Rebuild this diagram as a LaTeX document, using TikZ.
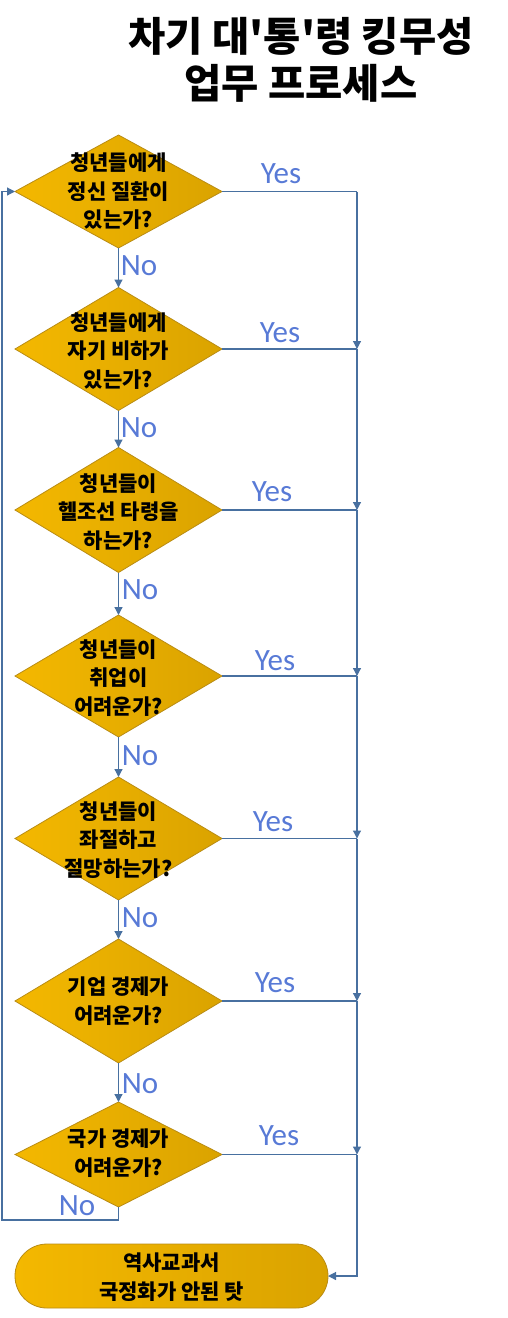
\documentclass[tikz,border=0pt]{standalone}
\usepackage{fontspec}
\usetikzlibrary{shapes.geometric,arrows.meta}
\newfontfamily\kr{Noto Sans CJK KR}
\newfontfamily\lab{Carlito}
\definecolor{goldL}{RGB}{244,184,0}
\definecolor{goldR}{RGB}{218,163,0}
\definecolor{goldB}{RGB}{185,140,20}
\definecolor{conn}{RGB}{72,112,160}
\definecolor{labc}{RGB}{88,122,214}
\tikzset{
  dia/.style={diamond, draw=goldB, line width=0.8pt, left color=goldL, right color=goldR,
    minimum width=207pt, inner sep=0pt, outer sep=0pt},
  dtext/.style={align=center, font=\kr\bfseries\fontsize{21}{28.5}\selectfont, inner sep=0pt},
  term/.style={rectangle, rounded corners=32pt, draw=goldB, line width=0.8pt, left color=goldL, right color=goldR,
    minimum width=313pt, minimum height=64pt, inner sep=0pt, outer sep=0pt},
  conline/.style={draw=conn, line width=1.2pt},
  arr/.style={conline, -{Triangle[length=8pt,width=8pt]}},
  yn/.style={font=\lab\fontsize{31}{33}\selectfont, text=labc, inner sep=0pt},
  ttl/.style={font=\kr\bfseries\fontsize{40.5}{47}\selectfont, align=center, inner sep=0pt}
}
\begin{document}
\begin{tikzpicture}[x=1pt,y=-1pt]
\useasboundingbox (0,0) rectangle (507,1318);
\node[ttl] (title) at (301,60) {차기 대'통'령 킹무성\\업무 프로세스};

\node[dia, minimum height=113pt] (d1) at (118.5,191.5) {};
\node[dia, minimum height=123pt] (d2) at (118.5,349) {};
\node[dia, minimum height=125pt] (d3) at (118.5,510) {};
\node[dia, minimum height=122pt] (d4) at (118.5,676) {};
\node[dia, minimum height=123pt] (d5) at (118.5,838.5) {};
\node[dia, minimum height=124pt] (d6) at (118.5,1001) {};
\node[dia, minimum height=105pt] (d7) at (118.5,1154.5) {};

\node[dtext] (t1) at (118.5,191.5) {청년들에게\\정신 질환이\\있는가?};
\node[dtext] (t2) at (118.5,351) {청년들에게\\자기 비하가\\있는가?};
\node[dtext] (t3) at (118.5,512) {청년들이\\헬조선 타령을\\하는가?};
\node[dtext] (t4) at (118.5,678) {청년들이\\취업이\\어려운가?};
\node[dtext] (t5) at (118.5,840) {청년들이\\좌절하고\\절망하는가?};
\node[dtext] (t6) at (118.5,1001) {기업 경제가\\어려운가?};
\node[dtext] (t7) at (118.5,1153) {국가 경제가\\어려운가?};

\node[term] (end) at (171.5,1276) {};
\node[dtext] (tend) at (171.5,1277) {역사교과서\\국정화가 안된 탓};

\coordinate (j1) at (357,191.5);
\coordinate (j2) at (357,349);
\coordinate (j3) at (357,510);
\coordinate (j4) at (357,676);
\coordinate (j5) at (357,838.5);
\coordinate (j6) at (357,1001);
\coordinate (j7) at (357,1154.5);
\coordinate (l1) at (118.5,1220);
\coordinate (l2) at (2,1220);
\coordinate (l3) at (2,191.5);

% Yes branches
\draw[conline] (d1.east) -- (j1);
\draw[conline] (d2.east) -- (j2);
\draw[conline] (d3.east) -- (j3);
\draw[conline] (d4.east) -- (j4);
\draw[conline] (d5.east) -- (j5);
\draw[conline] (d6.east) -- (j6);
\draw[conline] (d7.east) -- (j7);
\draw[arr] (j1) -- (j2);
\draw[arr] (j2) -- (j3);
\draw[arr] (j3) -- (j4);
\draw[arr] (j4) -- (j5);
\draw[arr] (j5) -- (j6);
\draw[arr] (j6) -- (j7);
\draw[arr] (j7) |- (end.east);

% No branches
\draw[arr] (d1.south) -- (d2.north);
\draw[arr] (d2.south) -- (d3.north);
\draw[arr] (d3.south) -- (d4.north);
\draw[arr] (d4.south) -- (d5.north);
\draw[arr] (d5.south) -- (d6.north);
\draw[arr] (d6.south) -- (d7.north);
\draw[arr] (d7.south) -- (l1) -- (l2) -- (l3) -- (d1.west);

% labels
\node[yn] (y1) at (281,174) {Yes};
\node[yn] (y2) at (280,333) {Yes};
\node[yn] (y3) at (272,492) {Yes};
\node[yn] (y4) at (275,661) {Yes};
\node[yn] (y5) at (273,822) {Yes};
\node[yn] (y6) at (275,983) {Yes};
\node[yn] (y7) at (279,1136) {Yes};
\node[yn] (n1) at (139,266) {No};
\node[yn] (n2) at (139,428) {No};
\node[yn] (n3) at (140,590) {No};
\node[yn] (n4) at (140,756) {No};
\node[yn] (n5) at (140,918) {No};
\node[yn] (n6) at (140,1084) {No};
\node[yn] (n7) at (77,1206) {No};
\end{tikzpicture}
\end{document}
